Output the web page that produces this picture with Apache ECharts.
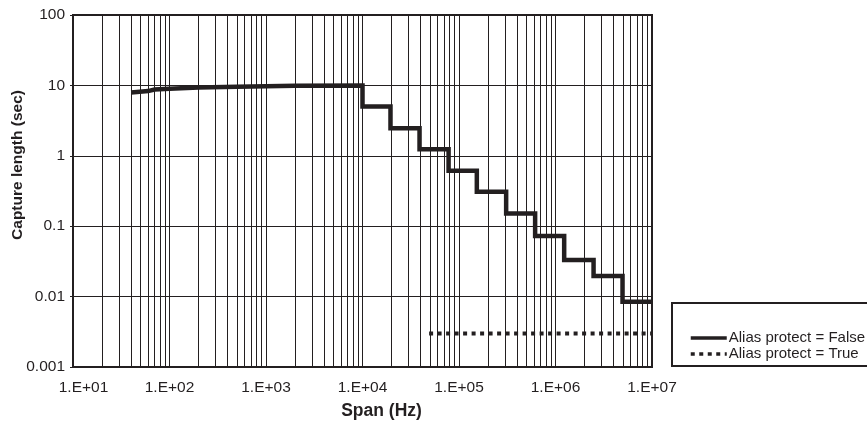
<!DOCTYPE html>
<html>
<head>
<meta charset="utf-8">
<script src="https://cdn.jsdelivr.net/npm/echarts@6/dist/echarts.min.js"></script>
<style>
  html, body { margin: 0; padding: 0; background: #ffffff; }
  #chart { width: 867px; height: 428px; }
</style>
</head>
<body>
<div id="chart"></div>
<script>
// Capture length versus span
var seriesNames = ['Alias protect = False', 'Alias protect = True'];
var xTitle = 'Span (Hz)';
var yTitle = 'Capture length (sec)';

// Continuous part of the "False" curve (span Hz, capture length s)
var curveSpan = [40, 60, 70, 100, 200, 500, 2000, 10000];
var curveLength = [7.9, 8.3, 8.75, 8.95, 9.3, 9.6, 9.85, 10];

// Stepped part of the "False" curve: each step starts at a span and holds a length
var stepSpan = [10000, 19500, 39000, 78000, 153000, 308000, 615000, 1230000, 2480000, 4950000];
var stepLength = [5.0, 2.46, 1.24, 0.614, 0.309, 0.152, 0.0726, 0.0331, 0.0196, 0.00848];
var stepEndSpan = 10000000;

// "True" curve
var trueSpan = [49000, 10000000];
var trueLength = [0.003, 0.003];

// Tick labels
var xTickLabels = ['1.E+01', '1.E+02', '1.E+03', '1.E+04', '1.E+05', '1.E+06', '1.E+07'];
var yTickLabels = ['0.001', '0.01', '0.1', '1', '10', '100'];

var INK = '#231f20';
var FONT = '"Liberation Sans", Arial, Helvetica, sans-serif';

// Build the "False" polyline: smooth section, then vertical drops and flat holds
var falseData = curveSpan.map(function (s, i) { return [s, curveLength[i]]; });
var prev = curveLength[curveLength.length - 1];
for (var i = 0; i < stepSpan.length; i++) {
  falseData.push([stepSpan[i], prev]);
  falseData.push([stepSpan[i], stepLength[i]]);
  prev = stepLength[i];
}
falseData.push([stepEndSpan, prev]);

var trueData = trueSpan.map(function (s, i) { return [s, trueLength[i]]; });

// Minor vertical gridlines at 2..9 within each decade of the span axis
var minorGrid = [];
for (var d = 1; d < 7; d++) {
  for (var m = 2; m <= 9; m++) minorGrid.push({ xAxis: m * Math.pow(10, d) });
}

var chart = echarts.init(document.getElementById('chart'), null, { renderer: 'canvas' });
chart.setOption({
  animation: false,
  backgroundColor: '#ffffff',
  grid: {
    left: 73, right: 215, top: 15, bottom: 61,
    outerBoundsMode: 'none', containLabel: false,
    show: true, borderColor: INK, borderWidth: 2, backgroundColor: 'transparent'
  },
  graphic: [
    {
      type: 'text', x: 17.5, y: 165, rotation: Math.PI / 2, silent: true,
      style: {
        text: yTitle, fill: INK, align: 'center', verticalAlign: 'middle',
        font: 'bold 15.5px ' + FONT
      }
    }
  ],
  xAxis: {
    type: 'log', logBase: 10, min: 10, max: 10000000,
    name: xTitle, nameLocation: 'middle', nameGap: 35, nameMoveOverlap: false,
    nameTextStyle: {
      fontFamily: FONT, fontWeight: 'bold', fontSize: 17.5,
      color: INK, padding: [0, 0, 0, 38]
    },
    axisLine: { show: true, lineStyle: { color: INK, width: 2 } },
    axisTick: { show: false },
    splitLine: { show: true, lineStyle: { color: INK, width: 1 } },
    axisLabel: {
      margin: 13, fontFamily: FONT, fontSize: 15.5, color: INK,
      formatter: function (v) {
        var k = Math.round(Math.log10(v)) - 1;
        var t = xTickLabels[k];
        return k === 0 ? '{first|' + t + '}' : t;
      },
      rich: { first: { fontFamily: FONT, fontSize: 15.5, color: INK, padding: [0, 0, 0, 21] } }
    }
  },
  yAxis: {
    type: 'log', logBase: 10, min: 0.001, max: 100,
    axisLine: { show: true, lineStyle: { color: INK, width: 2 } },
    axisTick: { show: true, length: 3, lineStyle: { color: INK } },
    splitLine: { show: true, lineStyle: { color: INK, width: 1 } },
    axisLabel: {
      margin: 8, fontFamily: FONT, fontSize: 15.5, color: INK,
      formatter: function (v) {
        return yTickLabels[Math.round(Math.log10(v)) + 3];
      }
    }
  },
  legend: {
    orient: 'vertical', left: 672, top: 303,
    padding: [27, 30, 4, 17],
    borderColor: INK, borderWidth: 2,
    itemWidth: 36, itemHeight: 12, itemGap: 0,
    itemStyle: { opacity: 0 },
    textStyle: { fontFamily: FONT, fontSize: 15, color: INK, lineHeight: 16, padding: [0, 0, 0, -3] },
    data: [
      { name: seriesNames[0], lineStyle: { width: 3.5 } },
      { name: seriesNames[1], lineStyle: { width: 3.5 } }
    ]
  },
  series: [
    {
      name: seriesNames[0], type: 'line', data: falseData,
      symbol: 'none', z: 3,
      lineStyle: { color: INK, width: 4.5, join: 'miter', cap: 'butt' },
      itemStyle: { color: INK },
      markLine: {
        silent: true, z: 1, symbol: ['none', 'none'],
        label: { show: false },
        lineStyle: { color: INK, width: 1, type: 'solid' },
        emphasis: { disabled: true },
        data: minorGrid
      }
    },
    {
      name: seriesNames[1], type: 'line', data: trueData,
      symbol: 'none', z: 3,
      lineStyle: { color: INK, width: 4, type: [4, 4.5], cap: 'butt' },
      itemStyle: { color: INK }
    }
  ]
});
</script>
</body>
</html>
